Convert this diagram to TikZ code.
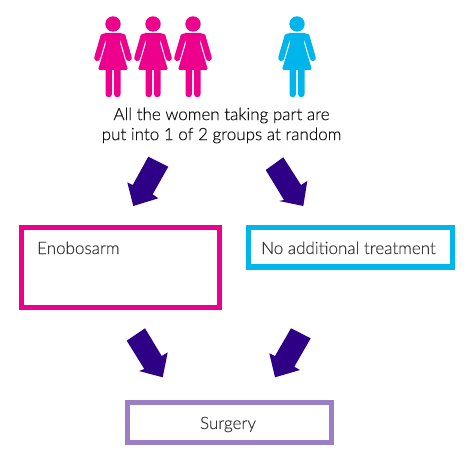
\documentclass[tikz,border=0pt]{standalone}
\usepackage{fontspec}
\setmainfont{Lato Light}[RawFeature={embolden=0.3}]
\definecolor{pinkc}{HTML}{EC008C}
\definecolor{bluec}{HTML}{00B4EC}
\definecolor{arrowc}{HTML}{2E0085}
\definecolor{lilac}{HTML}{9A7EC6}
\definecolor{textc}{HTML}{111111}
\definecolor{textg}{HTML}{3A3A3A}
\tikzset{
  lbl/.style={text=textg,font=\fontsize{17pt}{20pt}\selectfont,inner sep=0pt},
  blockarrow/.style={fill=arrowc,draw=none}
}
\newcommand{\woman}[2]{%
  \begin{scope}[shift={(#1,0)}]
    \fill[#2] (0,24) circle (7.7);
    \fill[#2,rounded corners=1.5pt] (-9.5,33) -- (9.5,33) -- (7,43) -- (15,70) -- (-15,70) -- (-7,43) -- cycle;
    \draw[#2,line width=6pt,line cap=round] (-9.6,36.5) -- (-15.8,58);
    \draw[#2,line width=6pt,line cap=round] (9.6,36.5) -- (15.8,58);
    \fill[#2] (-7.5,68) -- (-1,68) -- (-1,94) arc (0:180:3.25) -- cycle;
    \fill[#2] (1,68) -- (7.5,68) -- (7.5,94) arc (0:180:3.25) -- cycle;
  \end{scope}}
\begin{document}
\begin{tikzpicture}[x=1pt,y=-1pt]
\useasboundingbox (0,0) rectangle (470,462);
\woman{113}{pinkc}
\woman{153}{pinkc}
\woman{193}{pinkc}
\woman{297}{bluec}
\node[lbl,text=textc,align=center] (intro) at (221.5,125.5) {All the women taking part are\\put into 1 of 2 groups at random};
\fill[blockarrow] (148.3,156.7) -- (168.3,166.7) -- (152.7,194.3) -- (158.3,198.3) -- (133.3,206) -- (127.3,182.3) -- (132.7,185) -- cycle;
\fill[blockarrow] (283.3,157.3) -- (265.7,170) -- (284,200) -- (279,201) -- (303.3,206) -- (307.3,181) -- (301,185) -- cycle;
\fill[blockarrow] (145,328.3) -- (126.7,340.7) -- (144.3,369) -- (139,371) -- (162.7,377.3) -- (167.7,352.3) -- (161.7,356) -- cycle;
\fill[blockarrow] (291,328.3) -- (310.7,338.3) -- (294.3,366.7) -- (300,370) -- (275,377.3) -- (269.3,353.3) -- (275,356) -- cycle;
\draw[pinkc,line width=5.2pt] (21.6,227.6) rectangle (219.2,307.4);
\draw[bluec,line width=5.2pt] (248.1,227.6) rectangle (452.5,267);
\draw[lilac,line width=5pt] (127.5,402.5) rectangle (331.5,442.5);
\node[lbl,anchor=base west] (eno) at (37,254) {Enobosarm};
\node[lbl,anchor=base west] (noadd) at (261,254) {No additional treatment};
\node[lbl,anchor=base] (surg) at (228,429) {Surgery};
\end{tikzpicture}
\end{document}
